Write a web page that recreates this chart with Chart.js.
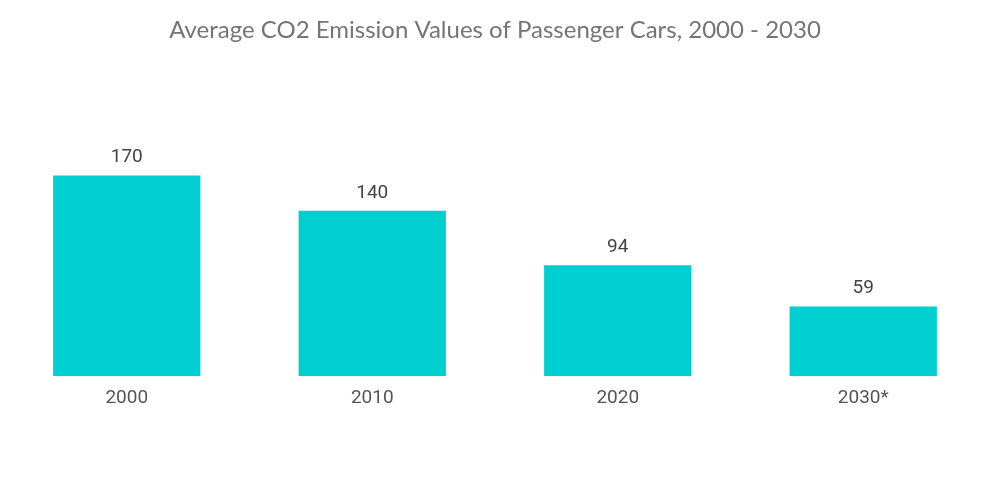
<!DOCTYPE html>
<html>
<head>
<meta charset="utf-8">
<script src="https://cdn.jsdelivr.net/npm/chart.js@4"></script>
<style>
  html, body { margin: 0; padding: 0; background: #fff; }
  #wrap { width: 1000px; height: 504px; }
</style>
</head>
<body>
<div id="wrap"><canvas id="chart"></canvas></div>
<script>
const years = ["2000", "2010", "2020", "2030*"];
const emissions = [170, 140, 94, 59];

const barColor = "#00CED1";

// draw the value above each bar
const valueLabels = {
  id: "valueLabels",
  afterDatasetsDraw(chart) {
    const ctx = chart.ctx;
    const meta = chart.getDatasetMeta(0);
    ctx.save();
    ctx.font = "19px Roboto";
    ctx.fillStyle = "#444444";
    ctx.textAlign = "center";
    ctx.textBaseline = "middle";
    meta.data.forEach((bar, i) => {
      ctx.fillText(emissions[i], bar.x, bar.y - 18);
    });
    ctx.restore();
  },
};

new Chart(document.getElementById("chart"), {
  type: "bar",
  data: {
    labels: years,
    datasets: [
      {
        data: emissions,
        backgroundColor: barColor,
        categoryPercentage: 1,
        barPercentage: 0.6,
      },
    ],
  },
  options: {
    responsive: true,
    maintainAspectRatio: false,
    animation: false,
    layout: {
      padding: { left: 4, right: 14, bottom: 83 },
    },
    plugins: {
      legend: { display: false },
      tooltip: { enabled: false },
      title: {
        display: true,
        text: "Average CO2 Emission Values of Passenger Cars, 2000 - 2030",
        color: "#757575",
        font: { family: "Lato", size: 24, weight: "normal" },
        padding: { top: 16, bottom: 95.2 },
      },
    },
    scales: {
      x: {
        grid: { display: false, drawTicks: false },
        border: { display: false },
        ticks: {
          color: "#555555",
          padding: 11,
          font: { family: "Roboto", size: 19 },
        },
      },
      y: {
        display: false,
        min: 0,
        max: 200,
      },
    },
  },
  plugins: [valueLabels],
});
</script>
</body>
</html>
